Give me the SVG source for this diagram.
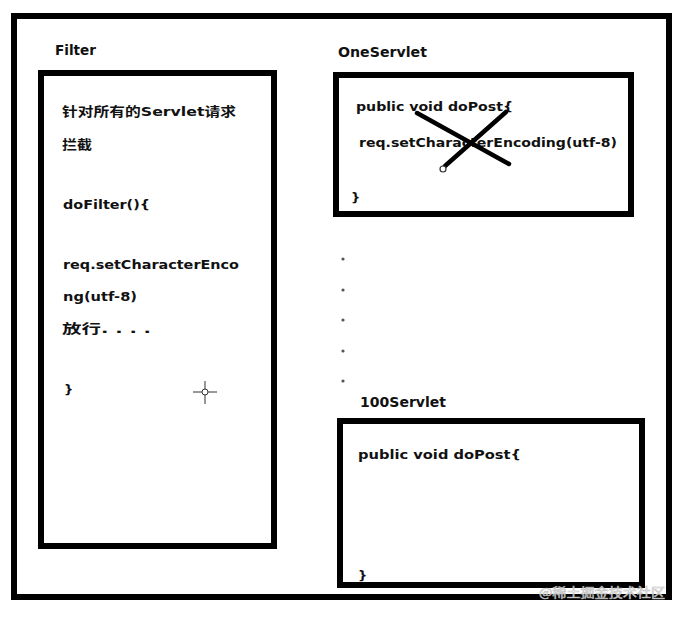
<svg xmlns="http://www.w3.org/2000/svg" width="688" height="620" viewBox="0 0 688 620">
<style>
.box{fill:#fff;stroke:#000;stroke-width:6}
.t{font-family:"DejaVu Sans","Noto Sans CJK SC",sans-serif;font-weight:bold;font-size:13px;fill:#111}
.lbl{font-family:"DejaVu Sans",sans-serif;font-weight:bold;font-size:13.5px;fill:#111}
.dot{fill:#555}
</style>
<rect width="688" height="620" fill="#fff"/>
<rect id="frame" class="box" x="14" y="16" width="655" height="581"/>
<g id="filter">
<text class="lbl" x="55" y="55" textLength="41" lengthAdjust="spacingAndGlyphs">Filter</text>
<rect class="box" x="41" y="73" width="233" height="473"/>
<text class="t" x="62" y="116" textLength="174" lengthAdjust="spacingAndGlyphs">针对所有的Servlet请求</text>
<text class="t" x="62" y="149" textLength="30" lengthAdjust="spacingAndGlyphs">拦截</text>
<text class="t" x="63" y="209" textLength="87" lengthAdjust="spacingAndGlyphs">doFilter(){</text>
<text class="t" x="63" y="269" textLength="176" lengthAdjust="spacingAndGlyphs">req.setCharacterEnco</text>
<text class="t" x="63" y="301" textLength="74" lengthAdjust="spacingAndGlyphs">ng(utf-8)</text>
<text class="t" x="62" y="333" textLength="89" lengthAdjust="spacingAndGlyphs">放行. . . .</text>
<text class="t" x="64" y="394">}</text>
<g stroke="#333" stroke-width="1" fill="none">
<line x1="205" y1="381" x2="205" y2="404"/>
<line x1="193" y1="392" x2="217" y2="392"/>
<circle cx="205" cy="392" r="3" fill="#fff"/>
</g>
</g>
<g id="oneservlet">
<text class="lbl" x="338" y="57" textLength="89" lengthAdjust="spacingAndGlyphs">OneServlet</text>
<rect class="box" x="336" y="75" width="295" height="139"/>
<text class="t" x="356" y="111" textLength="157" lengthAdjust="spacingAndGlyphs">public void doPost{</text>
<text class="t" x="359" y="147" textLength="258" lengthAdjust="spacingAndGlyphs">req.setCharacterEncoding(utf-8)</text>
<text class="t" x="351" y="202">}</text>
<g stroke="#000" stroke-width="4.5" stroke-linecap="round">
<line x1="417" y1="113" x2="509" y2="164"/>
<line x1="506" y1="112" x2="445" y2="166"/>
</g>
<circle cx="443" cy="169" r="3" fill="#fff" stroke="#333" stroke-width="1.2"/>
</g>
<g id="dots">
<circle class="dot" cx="343" cy="259" r="1.6"/>
<circle class="dot" cx="343" cy="290" r="1.6"/>
<circle class="dot" cx="343" cy="320" r="1.6"/>
<circle class="dot" cx="343" cy="351" r="1.6"/>
<circle class="dot" cx="343" cy="381" r="1.6"/>
</g>
<g id="servlet100">
<text class="lbl" x="360" y="407" textLength="86" lengthAdjust="spacingAndGlyphs">100Servlet</text>
<rect class="box" x="340" y="421" width="302" height="164"/>
<text class="t" x="358" y="459" textLength="163" lengthAdjust="spacingAndGlyphs">public  void doPost{</text>
<text class="t" x="358" y="580">}</text>
</g>
<text x="539" y="597" font-family="'Noto Sans CJK SC',sans-serif" font-size="13" fill="#fff" stroke="#bbb" stroke-width="0.6" opacity="0.9" textLength="126" lengthAdjust="spacingAndGlyphs">@稀土掘金技术社区</text>
</svg>
